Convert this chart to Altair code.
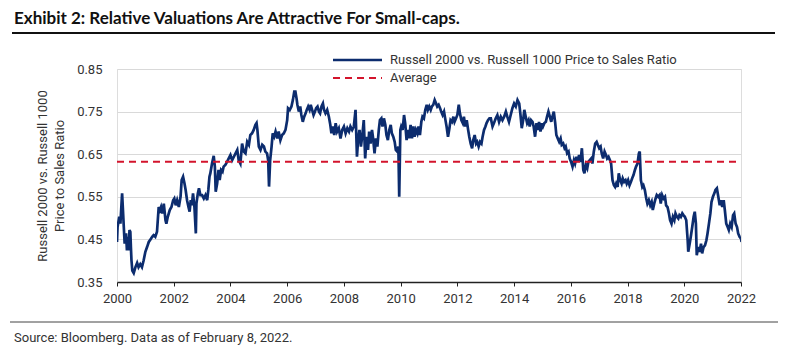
import altair as alt
import pandas as pd

TITLE = "Exhibit 2: Relative Valuations Are Attractive For Small-caps."
SOURCE = "Source: Bloomberg. Data as of February 8, 2022."
SERIES = "Russell 2000 vs. Russell 1000 Price to Sales Ratio"
AVG_NAME = "Average"
Y_TITLE = ["Russell  2000 vs. Russell 1000", "Price to Sales Ratio"]
AVERAGE = 0.632

years = [
    2000.00, 2000.02, 2000.08, 2000.12, 2000.18, 2000.21, 2000.24, 2000.27, 2000.32, 2000.35,
    2000.39, 2000.41, 2000.44, 2000.47, 2000.49, 2000.51, 2000.54, 2000.59, 2000.65, 2000.71,
    2000.76, 2000.82, 2000.88, 2000.94, 2001.00, 2001.06, 2001.12, 2001.18, 2001.24, 2001.29,
    2001.35, 2001.41, 2001.47, 2001.51, 2001.55, 2001.59, 2001.65, 2001.71, 2001.74, 2001.79,
    2001.86, 2001.92, 2001.98, 2002.02, 2002.07, 2002.12, 2002.18, 2002.24, 2002.28, 2002.33,
    2002.38, 2002.42, 2002.47, 2002.52, 2002.56, 2002.60, 2002.64, 2002.68, 2002.73, 2002.78,
    2002.80, 2002.85, 2002.89, 2002.94, 2003.00, 2003.06, 2003.12, 2003.18, 2003.22, 2003.26,
    2003.29, 2003.35, 2003.41, 2003.45, 2003.48, 2003.53, 2003.58, 2003.62, 2003.67, 2003.72,
    2003.76, 2003.82, 2003.88, 2003.94, 2004.00, 2004.06, 2004.12, 2004.18, 2004.24, 2004.29,
    2004.35,
    2004.41, 2004.47, 2004.53, 2004.59, 2004.65, 2004.70, 2004.76, 2004.82, 2004.88, 2004.92,
    2004.95, 2005.00, 2005.06, 2005.12, 2005.18, 2005.23, 2005.29, 2005.33, 2005.36, 2005.40,
    2005.45, 2005.49, 2005.54, 2005.59, 2005.65, 2005.70, 2005.76, 2005.82, 2005.88, 2005.94,
    2006.00, 2006.03, 2006.09, 2006.15, 2006.20, 2006.25, 2006.29, 2006.33, 2006.36, 2006.41,
    2006.46, 2006.50, 2006.55, 2006.60, 2006.65, 2006.69, 2006.74, 2006.79, 2006.83, 2006.88,
    2006.93, 2006.98, 2007.02, 2007.07, 2007.12, 2007.16, 2007.21, 2007.26, 2007.30, 2007.35,
    2007.41, 2007.47, 2007.52, 2007.56, 2007.61, 2007.66, 2007.71, 2007.76, 2007.82, 2007.88,
    2007.94, 2008.00, 2008.06, 2008.12, 2008.18, 2008.23, 2008.29, 2008.35, 2008.41, 2008.46,
    2008.50, 2008.55, 2008.60,
    2008.65, 2008.70, 2008.75, 2008.80, 2008.85, 2008.89, 2008.94, 2008.99, 2009.03, 2009.08,
    2009.13, 2009.18, 2009.23, 2009.27, 2009.32, 2009.36, 2009.41, 2009.46, 2009.50, 2009.55,
    2009.60, 2009.65, 2009.69, 2009.74, 2009.79, 2009.83, 2009.88, 2009.92, 2009.95, 2009.99,
    2010.02, 2010.07, 2010.12, 2010.16, 2010.21, 2010.26, 2010.30, 2010.35, 2010.40, 2010.45,
    2010.49, 2010.54, 2010.59, 2010.63, 2010.68, 2010.73, 2010.77, 2010.82, 2010.87, 2010.92,
    2010.96, 2011.01, 2011.06, 2011.10, 2011.15, 2011.20, 2011.25, 2011.29, 2011.34, 2011.39,
    2011.43, 2011.48, 2011.53, 2011.58, 2011.62, 2011.67, 2011.72, 2011.76, 2011.81, 2011.86,
    2011.90, 2011.95, 2012.00, 2012.05, 2012.09, 2012.14, 2012.19, 2012.23, 2012.28, 2012.33,
    2012.38, 2012.42, 2012.47, 2012.52, 2012.56, 2012.61, 2012.66, 2012.70, 2012.75, 2012.80,
    2012.85, 2012.89, 2012.94, 2012.99, 2013.03, 2013.08, 2013.13, 2013.18,
    2013.24, 2013.29, 2013.35, 2013.41, 2013.47, 2013.53, 2013.59, 2013.65, 2013.71, 2013.76,
    2013.82, 2013.88, 2013.94, 2014.00, 2014.06, 2014.12, 2014.18, 2014.22, 2014.27, 2014.32,
    2014.36, 2014.41, 2014.46, 2014.51, 2014.55, 2014.60, 2014.65, 2014.69, 2014.74, 2014.79,
    2014.84, 2014.88, 2014.93, 2014.98, 2015.02, 2015.07, 2015.12, 2015.16, 2015.21, 2015.26,
    2015.31, 2015.35, 2015.40, 2015.45, 2015.49, 2015.54, 2015.59, 2015.64, 2015.68, 2015.73,
    2015.78, 2015.82, 2015.87, 2015.92, 2015.96, 2016.01, 2016.06, 2016.11, 2016.15, 2016.20,
    2016.25, 2016.29, 2016.34, 2016.39, 2016.44, 2016.48, 2016.53, 2016.58, 2016.62, 2016.67,
    2016.72, 2016.76, 2016.81, 2016.86, 2016.91, 2016.95, 2017.00, 2017.05, 2017.09, 2017.14,
    2017.19, 2017.24, 2017.28, 2017.33, 2017.38, 2017.42, 2017.47, 2017.52, 2017.56,
    2017.60, 2017.65, 2017.69, 2017.74, 2017.79, 2017.83, 2017.88, 2017.93, 2017.97, 2018.02,
    2018.07, 2018.12, 2018.16, 2018.21, 2018.26, 2018.30, 2018.35, 2018.40, 2018.43, 2018.47,
    2018.52, 2018.56, 2018.61, 2018.66, 2018.70, 2018.75, 2018.80, 2018.85, 2018.89, 2018.94,
    2018.99, 2019.03, 2019.08, 2019.13, 2019.17, 2019.22, 2019.27, 2019.32, 2019.36, 2019.41,
    2019.46, 2019.50, 2019.55, 2019.60, 2019.65, 2019.69, 2019.74, 2019.79, 2019.83, 2019.88,
    2019.93, 2019.97, 2020.02, 2020.07, 2020.12, 2020.14, 2020.19, 2020.23, 2020.28, 2020.33,
    2020.37, 2020.41, 2020.44, 2020.49, 2020.54, 2020.59, 2020.63, 2020.68, 2020.73, 2020.78,
    2020.82, 2020.87, 2020.92, 2020.96, 2021.01, 2021.06, 2021.10, 2021.15, 2021.20, 2021.25,
    2021.29, 2021.34, 2021.39, 2021.43, 2021.48, 2021.53, 2021.57, 2021.62, 2021.67, 2021.72,
    2021.76, 2021.81, 2021.86, 2021.90, 2021.95, 2022.00, 2022.02,
]

ratios = [
    0.444, 0.479, 0.503, 0.487, 0.558, 0.519, 0.479, 0.440, 0.464, 0.424,
    0.456, 0.424, 0.472, 0.468, 0.432, 0.401, 0.377, 0.371, 0.385, 0.395,
    0.385, 0.392, 0.385, 0.401, 0.421, 0.432, 0.444, 0.450, 0.456, 0.460,
    0.456, 0.468, 0.526, 0.519, 0.526, 0.511, 0.534, 0.495, 0.487, 0.503,
    0.519, 0.526, 0.542, 0.546, 0.530, 0.542, 0.526, 0.550, 0.589, 0.597,
    0.581, 0.566, 0.542, 0.526, 0.515, 0.542, 0.530, 0.558, 0.526, 0.464,
    0.534, 0.558, 0.570, 0.554, 0.554, 0.546, 0.554, 0.542, 0.566, 0.597,
    0.605, 0.628, 0.646, 0.621, 0.562, 0.581, 0.613, 0.589, 0.613, 0.609,
    0.621, 0.625, 0.632, 0.640, 0.648, 0.636, 0.644, 0.652, 0.660, 0.636,
    0.628,
    0.675, 0.656, 0.652, 0.679, 0.672, 0.695, 0.699, 0.707, 0.719, 0.723,
    0.707, 0.668, 0.660, 0.672, 0.668, 0.656, 0.652, 0.636, 0.574, 0.636,
    0.668, 0.699, 0.691, 0.703, 0.687, 0.703, 0.683, 0.695, 0.699, 0.707,
    0.730, 0.758, 0.754, 0.762, 0.777, 0.797, 0.797, 0.781, 0.766, 0.750,
    0.762, 0.742, 0.726, 0.738, 0.746, 0.754, 0.762, 0.754, 0.766, 0.754,
    0.742, 0.750, 0.758, 0.762, 0.750, 0.746, 0.762, 0.769, 0.754, 0.746,
    0.754, 0.738, 0.719, 0.699, 0.715, 0.695, 0.723, 0.703, 0.711, 0.687,
    0.707, 0.715, 0.699, 0.711, 0.703, 0.715, 0.707, 0.715, 0.754, 0.644,
    0.683, 0.707, 0.668,
    0.695, 0.730, 0.640, 0.691, 0.660, 0.703, 0.675, 0.707, 0.687, 0.652,
    0.687, 0.668, 0.707, 0.730, 0.734, 0.715, 0.734, 0.719, 0.695, 0.683,
    0.707, 0.719, 0.699, 0.691, 0.679, 0.660, 0.656, 0.668, 0.550, 0.707,
    0.715, 0.707, 0.742, 0.723, 0.683, 0.707, 0.687, 0.719, 0.687, 0.715,
    0.691, 0.707, 0.699, 0.715, 0.695, 0.726, 0.738, 0.734, 0.754, 0.766,
    0.754, 0.762, 0.754, 0.762, 0.766, 0.777, 0.769, 0.762, 0.766, 0.758,
    0.750, 0.742, 0.750, 0.730, 0.715, 0.691, 0.711, 0.730, 0.726, 0.738,
    0.726, 0.734, 0.742, 0.766, 0.746, 0.730, 0.723, 0.738, 0.715, 0.730,
    0.707, 0.691, 0.675, 0.664, 0.683, 0.695, 0.675, 0.679, 0.668, 0.679,
    0.675, 0.691, 0.707, 0.715, 0.723, 0.730, 0.734, 0.734,
    0.715, 0.723, 0.734, 0.742, 0.726, 0.738, 0.730, 0.738, 0.750, 0.738,
    0.726, 0.742, 0.758, 0.769, 0.762, 0.777, 0.769, 0.746, 0.711, 0.730,
    0.754, 0.738, 0.723, 0.730, 0.715, 0.730, 0.726, 0.715, 0.691, 0.723,
    0.707, 0.726, 0.703, 0.723, 0.715, 0.723, 0.726, 0.738, 0.750, 0.738,
    0.726, 0.738, 0.750, 0.723, 0.695, 0.687, 0.679, 0.687, 0.672, 0.675,
    0.664, 0.668, 0.652, 0.656, 0.640, 0.632, 0.621, 0.636, 0.628, 0.644,
    0.632, 0.648, 0.632, 0.664, 0.613, 0.605, 0.625, 0.617, 0.632, 0.636,
    0.640, 0.628, 0.656, 0.675, 0.679, 0.672, 0.664, 0.668, 0.652, 0.640,
    0.656, 0.648, 0.640, 0.644, 0.636, 0.628, 0.589, 0.577, 0.573,
    0.581, 0.573, 0.605, 0.589, 0.581, 0.593, 0.585, 0.589, 0.581, 0.589,
    0.577, 0.585, 0.593, 0.601, 0.613, 0.621, 0.628, 0.652, 0.656, 0.589,
    0.573, 0.577, 0.566, 0.546, 0.534, 0.542, 0.530, 0.538, 0.519, 0.534,
    0.546, 0.554, 0.550, 0.554, 0.534, 0.554, 0.546, 0.550, 0.530, 0.526,
    0.511, 0.495, 0.487, 0.503, 0.495, 0.511, 0.503, 0.499, 0.507, 0.503,
    0.511, 0.507, 0.503, 0.495, 0.448, 0.421, 0.440, 0.456, 0.479, 0.503,
    0.515, 0.487, 0.413, 0.432, 0.421, 0.440, 0.417, 0.432, 0.436, 0.448,
    0.464, 0.487, 0.511, 0.538, 0.550, 0.558, 0.566, 0.570, 0.550, 0.530,
    0.542, 0.526, 0.542, 0.519, 0.487, 0.479, 0.472, 0.487, 0.479, 0.507,
    0.511, 0.487, 0.479, 0.464, 0.456, 0.452, 0.444,
]

x_ticks = [2000, 2002, 2004, 2006, 2008, 2010, 2012, 2014, 2016, 2018, 2020, 2022]
y_ticks = [0.35, 0.45, 0.55, 0.65, 0.75, 0.85]

NAVY = "#0c2c6e"
RED = "#d3142c"
FONT = "Roboto"

df = pd.DataFrame({"year": years, "ratio": ratios})
avg_df = pd.DataFrame({"year": [x_ticks[0], x_ticks[-1]], "ratio": [AVERAGE, AVERAGE]})

x_enc = alt.X(
    "year:Q",
    scale=alt.Scale(domain=[x_ticks[0], x_ticks[-1]], nice=False),
    axis=alt.Axis(
        values=x_ticks, format="d", title=None, grid=False, labelFlush=False,
        domainColor="#222222", domainWidth=1.5, tickColor="#222222", tickSize=4,
        labelFont=FONT, labelFontSize=13, labelColor="#333333", labelPadding=6,
    ),
)
y_enc = alt.Y(
    "ratio:Q",
    scale=alt.Scale(domain=[y_ticks[0], y_ticks[-1]], nice=False, zero=False),
    axis=alt.Axis(
        values=y_ticks, format=".2f", title=Y_TITLE, grid=True, gridColor="#d9d9d9",
        domain=False, ticks=False, labelPadding=15,
        labelFont=FONT, labelFontSize=13, labelColor="#333333",
        titleFont=FONT, titleFontSize=13, titleFontWeight="normal", titleColor="#333333",
        titlePadding=10, titleLineHeight=17,
    ),
)

line = alt.Chart(df).mark_line(strokeWidth=2.7, clip=True, color=NAVY).encode(x=x_enc, y=y_enc)
avg = alt.Chart(avg_df).mark_line(strokeWidth=2, color=RED, strokeDash=[7, 5]).encode(
    x="year:Q", y="ratio:Q"
)

# legend (manual, positioned like the reference)
leg_line = alt.Chart(pd.DataFrame({"a": [0]})).mark_rule(color=NAVY, strokeWidth=2.6).encode(
    x=alt.value(216), x2=alt.value(265), y=alt.value(-9)
)
leg_avg = alt.Chart(pd.DataFrame({"a": [0]})).mark_rule(color=RED, strokeWidth=2, strokeDash=[7, 5]).encode(
    x=alt.value(216), x2=alt.value(265), y=alt.value(9)
)
leg_txt1 = alt.Chart(pd.DataFrame({"t": [SERIES]})).mark_text(
    align="left", baseline="middle", font=FONT, fontSize=13, color="#333333"
).encode(x=alt.value(273), y=alt.value(-9), text="t:N")
leg_txt2 = alt.Chart(pd.DataFrame({"t": [AVG_NAME]})).mark_text(
    align="left", baseline="middle", font=FONT, fontSize=13, color="#333333"
).encode(x=alt.value(273), y=alt.value(9), text="t:N")

title_txt = alt.Chart(pd.DataFrame({"t": [TITLE]})).mark_text(
    align="left", baseline="alphabetic", font="Lato", fontSize=17, fontWeight="bold", color="#111111"
).encode(x=alt.value(-103), y=alt.value(-45), text="t:N")
title_rule = alt.Chart(pd.DataFrame({"a": [0]})).mark_rule(color="#111111", strokeWidth=2).encode(
    x=alt.value(-105), x2=alt.value(658), y=alt.value(-36)
)
bottom_rule = alt.Chart(pd.DataFrame({"a": [0]})).mark_rule(color="#444444", strokeWidth=1).encode(
    x=alt.value(-107), x2=alt.value(661), y=alt.value(253)
)
source_txt = alt.Chart(pd.DataFrame({"s": [SOURCE]})).mark_text(
    align="left", baseline="middle", font=FONT, fontSize=13, color="#333333"
).encode(x=alt.value(-103), y=alt.value(269), text="s:N")

chart = alt.layer(
    line, avg, leg_line, leg_avg, leg_txt1, leg_txt2, title_txt, title_rule, bottom_rule, source_txt
).properties(
    width=624, height=213,
    autosize=alt.AutoSizeParams(type="none"),
    padding={"left": 117, "top": 69, "right": 46, "bottom": 74},
).configure_view(stroke=None).configure(background="white")

chart.save("out.html", embed_options={"renderer": "svg", "actions": False})
